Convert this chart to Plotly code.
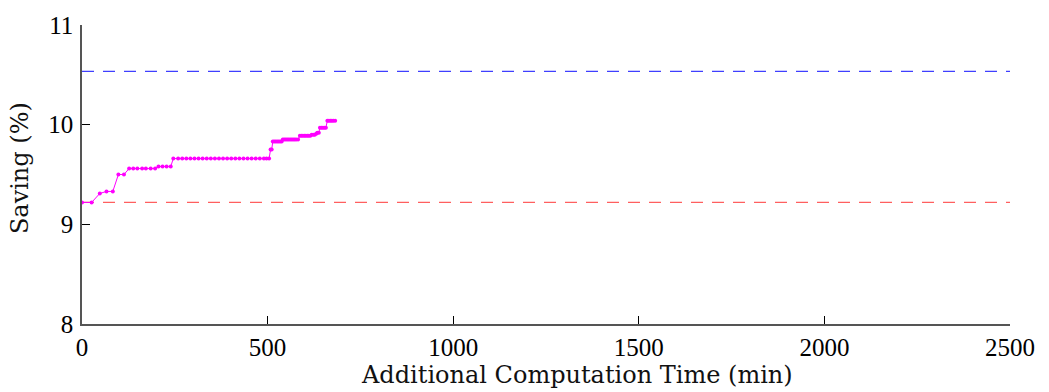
import plotly.graph_objects as go

# Data
time_min = [0, 26, 48, 66, 83, 98, 113, 127, 138, 149, 162, 172, 185, 197,
            206, 217, 228, 239, 246, 259, 270, 281, 292, 303, 314, 325, 336,
            347, 358, 369, 380, 391, 402, 413, 424, 435, 446, 457, 468, 479,
            490, 497, 504, 508, 511, 514, 518, 522, 526, 530, 534, 538, 541,
            545, 549, 553, 557, 561, 565, 569, 573, 577, 582, 587, 591, 595,
            599, 603, 607, 611, 615, 619, 623, 627, 631, 634, 638, 641, 645,
            649, 653, 657, 661, 665, 669, 673, 677, 682]
saving_pct = [9.22, 9.22, 9.31, 9.33, 9.33, 9.50, 9.50, 9.56, 9.56, 9.56,
              9.56, 9.56, 9.56, 9.56, 9.58, 9.58, 9.58, 9.58, 9.66, 9.66,
              9.66, 9.66, 9.66, 9.66, 9.66, 9.66, 9.66, 9.66, 9.66, 9.66,
              9.66, 9.66, 9.66, 9.66, 9.66, 9.66, 9.66, 9.66, 9.66, 9.66,
              9.66, 9.66, 9.66, 9.75, 9.75, 9.83, 9.83, 9.83, 9.83, 9.83,
              9.83, 9.83, 9.85, 9.85, 9.85, 9.85, 9.85, 9.85, 9.85, 9.85,
              9.85, 9.85, 9.85, 9.89, 9.89, 9.89, 9.89, 9.89, 9.89, 9.89,
              9.89, 9.90, 9.90, 9.90, 9.91, 9.92, 9.92, 9.97, 9.97, 9.97,
              9.97, 9.97, 10.04, 10.04, 10.04, 10.04, 10.04, 10.04]
ref_span = [0, 2500]
upper_level = 10.535
lower_level = 9.22
x_ticks = [0, 500, 1000, 1500, 2000, 2500]
y_ticks = [8, 9, 10, 11]

fig = go.Figure()
fig.add_trace(go.Scatter(x=ref_span, y=[upper_level, upper_level], mode="lines",
                         line=dict(color="#3f3fff", width=1.2, dash="12px,9px"),
                         showlegend=False, hoverinfo="skip"))
fig.add_trace(go.Scatter(x=ref_span, y=[lower_level, lower_level], mode="lines",
                         line=dict(color="#ff5f5f", width=1.2, dash="12px,9px"),
                         showlegend=False, hoverinfo="skip"))
fig.add_trace(go.Scatter(x=time_min, y=saving_pct, mode="lines+markers",
                         line=dict(color="#ff00ff", width=1),
                         marker=dict(color="#ff00ff", size=4),
                         showlegend=False))

axis_common = dict(showgrid=False, zeroline=False, showline=True,
                   linecolor="#555555", linewidth=1.5, ticks="inside",
                   ticklen=8, tickcolor="#000000", tickwidth=1.2,
                   tickfont=dict(family="Liberation Serif", size=25, color="#000"))

fig.update_layout(
    width=1049, height=392,
    margin=dict(l=82, r=39, t=21, b=68),
    paper_bgcolor="white", plot_bgcolor="white",
    xaxis=dict(range=[0, 2500], tickvals=x_ticks, ticktext=[str(v) for v in x_ticks],
               **axis_common),
    yaxis=dict(range=[8, 11], tickvals=y_ticks, ticktext=[str(v) for v in y_ticks],
               ticklabelstandoff=2, **axis_common),
    annotations=[
        dict(text="Additional Computation Time (min)", xref="paper", yref="paper",
             x=0.533, y=-0.118, xanchor="center", yanchor="top", showarrow=False,
             font=dict(family="DejaVu Serif", size=24, color="#111")),
        dict(text="Saving (%)", xref="paper", yref="paper", x=-0.05, y=0.52,
             xanchor="right", yanchor="middle", textangle=-90, showarrow=False,
             font=dict(family="DejaVu Serif", size=24, color="#111")),
    ],
)
fig.write_html("out.html", config={"displayModeBar": False},
               post_script="document.body.style.margin='0';document.body.style.overflow='hidden';")
